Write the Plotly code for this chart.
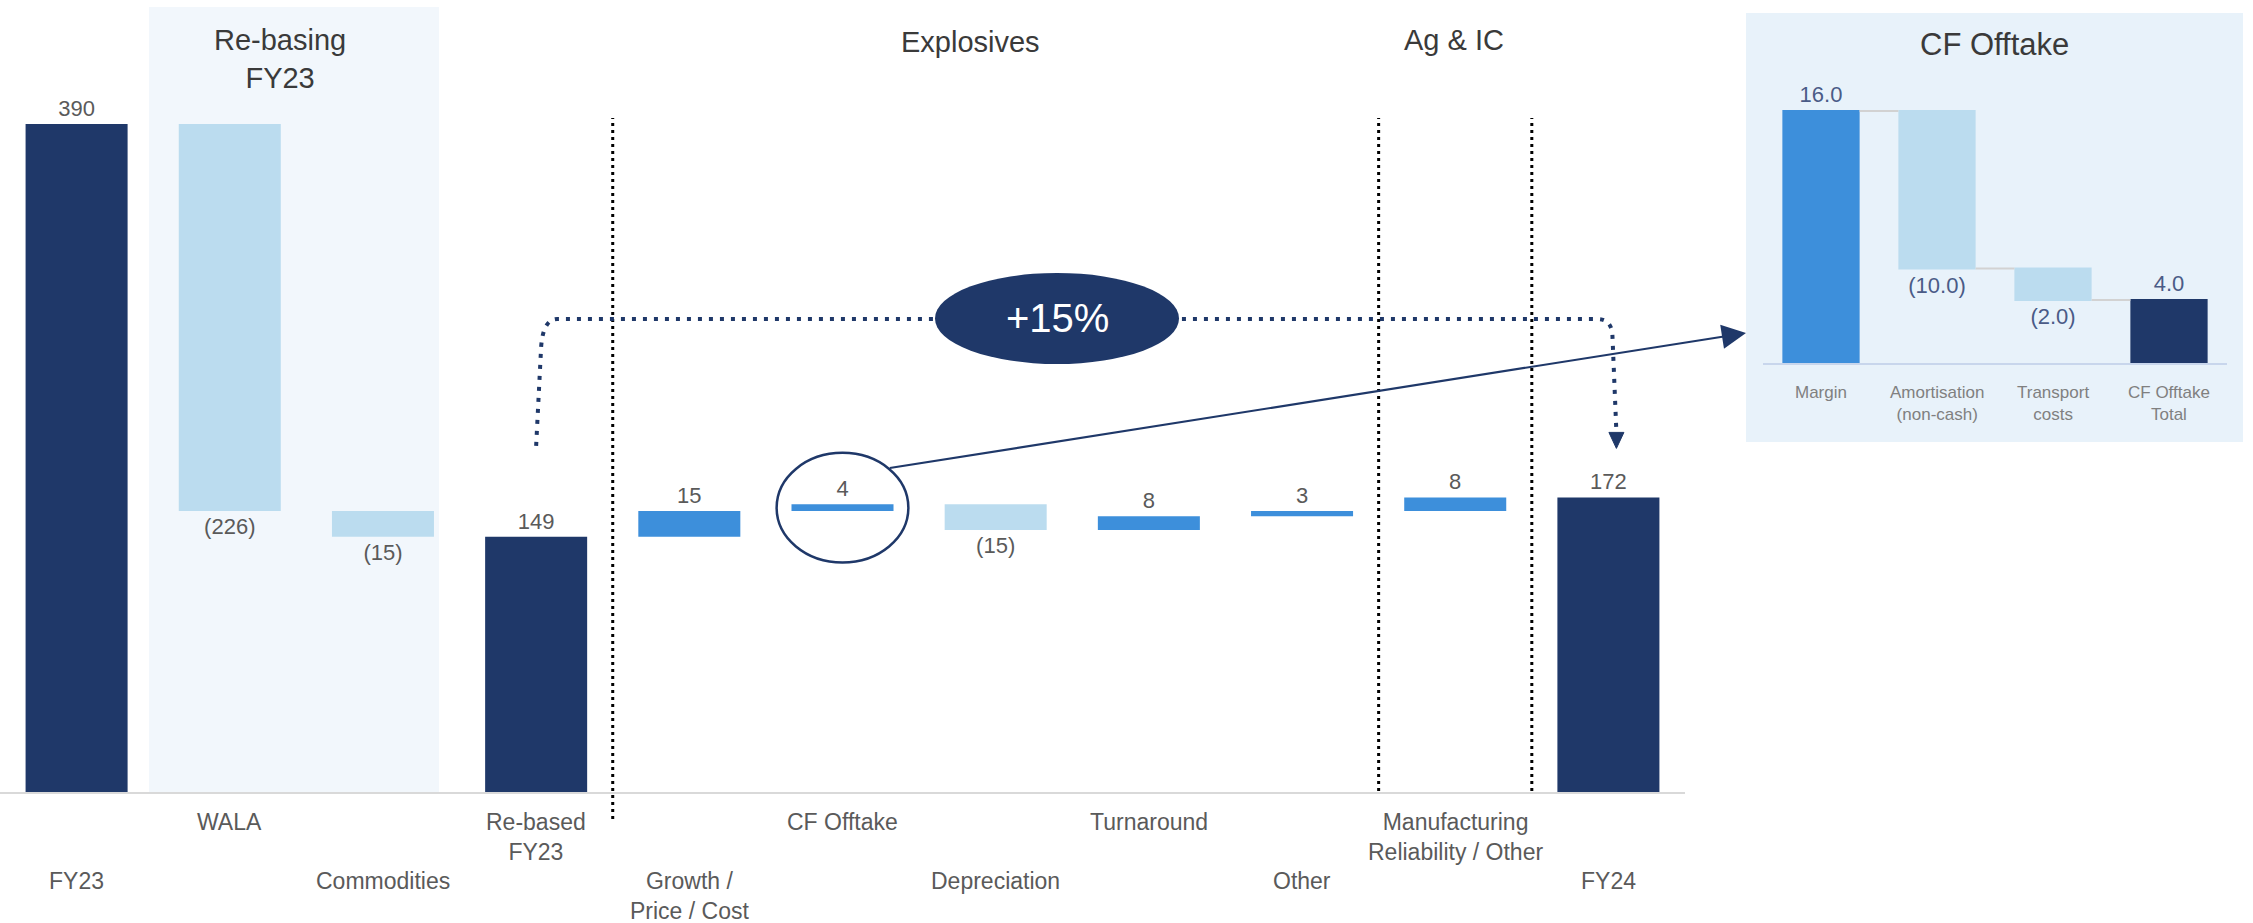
import math
import plotly.graph_objects as go

# ---- data -------------------------------------------------------------
categories = ["FY23", "WALA", "Commodities", "Re-based FY23", "Growth / Price / Cost",
              "CF Offtake", "Depreciation", "Turnaround", "Other",
              "Manufacturing Reliability / Other", "FY24"]
tick_labels = ["FY23", "WALA", "Commodities", "Re-based<br>FY23", "Growth /<br>Price / Cost",
               "CF Offtake", "Depreciation", "Turnaround", "Other",
               "Manufacturing<br>Reliability / Other", "FY24"]
values = [390, -226, -15, 149, 15, 4, -15, 8, 3, 8, 172]
measures = ["absolute", "relative", "relative", "total", "relative", "relative",
            "relative", "relative", "relative", "relative", "total"]

cf_categories = ["Margin", "Amortisation (non-cash)", "Transport costs", "CF Offtake Total"]
cf_tick_labels = ["Margin", "Amortisation<br>(non-cash)", "Transport<br>costs", "CF Offtake<br>Total"]
cf_values = [16.0, -10.0, -2.0, 4.0]
cf_measures = ["relative", "relative", "relative", "total"]

section_titles = ["Re-basing<br>FY23", "Explosives", "Ag & IC"]
growth_label = "+15%"

# ---- style ------------------------------------------------------------
NAVY = "#1f3869"
MID_BLUE = "#3d8fdb"
LIGHT_BLUE = "#bbdcef"
TEXT_GREY = "#5a5a5a"
TITLE_GREY = "#3a3a3a"
FONT = "Liberation Sans, Arial, sans-serif"

W, H = 2253, 923
MAIN_X0, MAIN_X1 = 0, 1685        # main plot area, px
MAIN_BASE, MAIN_TOP = 792, 0
Y_MAX = 462.4
INSET_X0, INSET_X1 = 1763, 2227
INSET_BASE, INSET_TOP = 363, 63
CF_Y_MAX = 19.05


def fmt(v, dec=0):
    s = f"{abs(v):.{dec}f}"
    return f"({s})" if v < 0 else s


def px(x):
    return x / W


def py(y):
    return 1 - y / H


def main_x_px(i):
    return MAIN_X0 + (i + 0.5) / len(categories) * (MAIN_X1 - MAIN_X0)


def main_y_px(v):
    return MAIN_BASE - v * (MAIN_BASE - MAIN_TOP) / Y_MAX


# running totals of the bridge
starts, ends = [], []
run = 0
for v, m in zip(values, measures):
    starts.append(run if m == "relative" else 0)
    if m == "absolute":
        run = v
    elif m == "relative":
        run += v
    ends.append(run)

labels = [fmt(v) for v in values]
cf_labels = [fmt(v, 1) for v in cf_values]

fig = go.Figure()

fig.add_trace(go.Waterfall(
    x=categories, y=values, measure=measures,
    text=labels, textinfo="text", textposition="outside",
    textfont=dict(size=22, color=TEXT_GREY, family=FONT),
    increasing=dict(marker=dict(color=MID_BLUE)),
    decreasing=dict(marker=dict(color=LIGHT_BLUE)),
    totals=dict(marker=dict(color=NAVY)),
    connector=dict(visible=False),
    cliponaxis=False, constraintext="none",
    xaxis="x", yaxis="y", showlegend=False, hoverinfo="skip",
))

fig.add_trace(go.Waterfall(
    x=cf_categories, y=cf_values, measure=cf_measures,
    text=cf_labels, textinfo="text", textposition="outside",
    textfont=dict(size=22, color="#4a5b87", family=FONT),
    increasing=dict(marker=dict(color=MID_BLUE)),
    decreasing=dict(marker=dict(color=LIGHT_BLUE)),
    totals=dict(marker=dict(color=NAVY)),
    connector=dict(mode="between", line=dict(color="#d2d2d2", width=2)),
    cliponaxis=False, constraintext="none",
    xaxis="x2", yaxis="y2", showlegend=False, hoverinfo="skip",
))

shapes = []
annotations = []

# background panels
shapes.append(dict(type="rect", xref="paper", yref="paper", layer="below",
                   x0=px(149), x1=px(439), y0=py(792), y1=py(7),
                   fillcolor="#f2f7fc", line=dict(width=0)))
shapes.append(dict(type="rect", xref="paper", yref="paper", layer="below",
                   x0=px(1746), x1=px(2243), y0=py(442), y1=py(13),
                   fillcolor="#e8f2fa", line=dict(width=0)))

# section dividers
for xd, ybot in [(3.5, 819), (8.5, 791), (9.5, 791)]:
    shapes.append(dict(type="line", xref="x", yref="paper",
                       x0=xd, x1=xd, y0=py(ybot), y1=py(118),
                       line=dict(color="black", width=3, dash="3px,4px")))

# growth bracket from re-based FY23 to FY24
left_x = main_x_px(3)
left_y = main_y_px(ends[3]) - 91
tip_x = main_x_px(10) + 8
tip_y = main_y_px(ends[10]) - 49
bracket_y = 319
pts = (f"M{px(left_x)},{py(left_y)} L{px(left_x + 5)},{py(bracket_y + 28)} "
       f"Q{px(left_x + 7)},{py(bracket_y)} {px(left_x + 21)},{py(bracket_y)} "
       f"L{px(tip_x - 19)},{py(bracket_y)} "
       f"Q{px(tip_x - 5)},{py(bracket_y)} {px(tip_x - 4)},{py(bracket_y + 16)} "
       f"L{px(tip_x)},{py(tip_y - 16)}")
shapes.append(dict(type="path", xref="paper", yref="paper", path=pts,
                   line=dict(color=NAVY, width=4, dash="4px,7px")))
shapes.append(dict(type="path", xref="paper", yref="paper",
                   path=(f"M{px(tip_x - 7.5)},{py(tip_y - 16)} L{px(tip_x + 7.5)},{py(tip_y - 16)} "
                         f"L{px(tip_x)},{py(tip_y)} Z"),
                   fillcolor=NAVY, line=dict(color=NAVY, width=1)))

# growth badge
shapes.append(dict(type="circle", xref="paper", yref="paper",
                   x0=px(935), x1=px(1179), y0=py(364), y1=py(273),
                   fillcolor=NAVY, line=dict(width=0)))
annotations.append(dict(text=growth_label, x=px(1057), y=py(318), xref="paper", yref="paper",
                        showarrow=False, xanchor="center", yanchor="middle",
                        font=dict(size=40, color="white", family=FONT)))

# highlight around CF Offtake and link to its breakdown
cf_i = categories.index("CF Offtake")
cf_mid = (starts[cf_i] + ends[cf_i]) / 2
shapes.append(dict(type="circle", xref="x", yref="y",
                   x0=cf_i - 0.43, x1=cf_i + 0.43, y0=cf_mid - 32, y1=cf_mid + 32,
                   line=dict(color=NAVY, width=2.5)))
cx, cy = main_x_px(cf_i), main_y_px(cf_mid)
rx = 0.43 * (MAIN_X1 - MAIN_X0) / len(categories)
ry = 32 * (MAIN_BASE - MAIN_TOP) / Y_MAX
ang = math.radians(46)
sx, sy = cx + rx * math.cos(ang), cy - ry * math.sin(ang)
hx, hy = 1746, 333
annotations.append(dict(text="", x=px(hx), y=py(hy), xref="paper", yref="paper",
                        showarrow=True, axref="pixel", ayref="pixel",
                        ax=sx - hx, ay=sy - hy, arrowhead=2, arrowsize=2.2,
                        arrowwidth=2.2, arrowcolor=NAVY, standoff=0, startstandoff=0))

# section titles
for t, x, y in zip(section_titles, [280, 970, 1454], [59, 42, 40]):
    annotations.append(dict(text=t, x=px(x), y=py(y), xref="paper", yref="paper",
                            showarrow=False, xanchor="center", yanchor="middle",
                            font=dict(size=29, color=TITLE_GREY, family=FONT)))
annotations.append(dict(text="CF Offtake", x=px(1995), y=py(45), xref="paper", yref="paper",
                        showarrow=False, xanchor="center", yanchor="middle",
                        font=dict(size=31, color=TITLE_GREY, family=FONT)))

# staggered category labels
for i, (c, lab) in enumerate(zip(categories, tick_labels)):
    top = 807 if i % 2 == 1 else 866
    annotations.append(dict(text=lab, x=c, y=py(top), xref="x", yref="paper",
                            showarrow=False, xanchor="center", yanchor="top",
                            font=dict(size=23, color=TEXT_GREY, family=FONT)))
for c, lab in zip(cf_categories, cf_tick_labels):
    annotations.append(dict(text=lab, x=c, y=py(381), xref="x2", yref="paper",
                            showarrow=False, xanchor="center", yanchor="top",
                            font=dict(size=17, color="#808080", family=FONT)))

fig.update_layout(
    width=W, height=H, autosize=False,
    margin=dict(l=0, r=0, t=0, b=0, pad=0),
    paper_bgcolor="white", plot_bgcolor="rgba(0,0,0,0)",
    waterfallgap=0.334,
    font=dict(family=FONT, color=TEXT_GREY),
    xaxis=dict(domain=[px(MAIN_X0), px(MAIN_X1)], anchor="y", range=[-0.5, 10.5],
               showticklabels=False, ticks="", showgrid=False, zeroline=False,
               showline=True, linecolor="#d9d9d9", linewidth=2),
    yaxis=dict(domain=[py(MAIN_BASE), py(MAIN_TOP)], anchor="x", range=[0, Y_MAX],
               visible=False, showgrid=False, zeroline=False),
    xaxis2=dict(domain=[px(INSET_X0), px(INSET_X1)], anchor="y2", range=[-0.5, 3.5],
                showticklabels=False, ticks="", showgrid=False, zeroline=False,
                showline=True, linecolor="#c8d6ec", linewidth=2),
    yaxis2=dict(domain=[py(INSET_BASE), py(INSET_TOP)], anchor="x2", range=[0, CF_Y_MAX],
                visible=False, showgrid=False, zeroline=False),
    shapes=shapes, annotations=annotations,
)

fig.write_html("out.html")
